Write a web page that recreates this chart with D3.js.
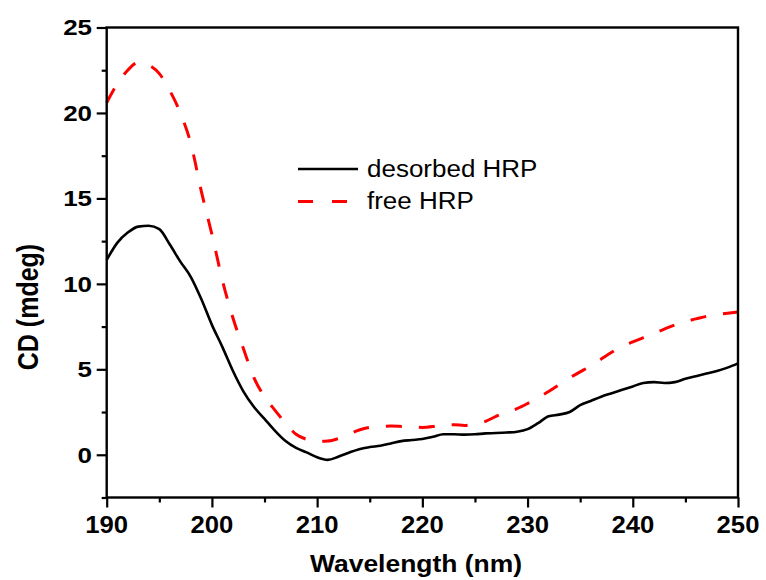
<!DOCTYPE html>
<html>
<head>
<meta charset="utf-8">
<script src="https://cdn.jsdelivr.net/npm/d3@7"></script>
<style>
  body { margin: 0; background: #fff; }
  text { font-family: Arial, "Liberation Sans", sans-serif; }
</style>
</head>
<body>
<div id="viz"></div>
<script>
var width = 766
var height = 580

// wavelength (nm), 1 nm step
var wavelengths = d3.range(190, 251)

// desorbed HRP (mdeg)
var desorbed = [11.4, 12.4, 13.0, 13.35, 13.4, 13.2, 12.3, 11.3, 10.4, 9.1,
  7.6, 6.3, 4.9, 3.7, 2.8, 2.1, 1.4, 0.8, 0.4, 0.14,
  -0.15, -0.3, -0.12, 0.12, 0.33, 0.45, 0.53, 0.66, 0.8, 0.86,
  0.92, 1.05, 1.2, 1.2, 1.18, 1.2, 1.25, 1.27, 1.3, 1.35,
  1.5, 1.85, 2.25, 2.35, 2.5, 2.9, 3.15, 3.4, 3.6, 3.8,
  4.0, 4.2, 4.25, 4.2, 4.25, 4.45, 4.6, 4.75, 4.9, 5.1, 5.35]

// free HRP (mdeg)
var free = [20.6, 21.7, 22.5, 22.95, 22.8, 22.3, 21.3, 20.0, 18.2, 15.4,
  12.9, 10.2, 8.0, 6.2, 4.5, 3.4, 2.6, 1.85, 1.2, 0.9,
  0.78, 0.8, 0.95, 1.2, 1.45, 1.6, 1.65, 1.68, 1.66, 1.63,
  1.6, 1.65, 1.75, 1.75, 1.72, 1.8, 1.95, 2.25, 2.5, 2.7,
  3.0, 3.35, 3.7, 4.1, 4.5, 4.85, 5.2, 5.6, 6.0, 6.35,
  6.6, 6.85, 7.1, 7.35, 7.6, 7.8, 7.95, 8.1, 8.2, 8.28, 8.35]

var xTicks = [190, 200, 210, 220, 230, 240, 250]
var xMinor = [195, 205, 215, 225, 235, 245]
var yTicks = [0, 5, 10, 15, 20, 25]
var yMinor = [-2.5, 2.5, 7.5, 12.5, 17.5, 22.5]

var seriesNames = ["desorbed HRP", "free HRP"]

// plot box (window.top is reserved, so use other names)
var plotL = 106.7, plotR = 738, plotT = 27.5, plotB = 497.5

var svg = d3.select("#viz")
  .append("svg")
  .attr("width", width)
  .attr("height", height)

var x = d3.scaleLinear().domain([190, 250]).range([plotL, plotR])
var y = d3.scaleLinear().domain([-2.5, 25]).range([plotB, plotT])

var line = d3.line()
  .x(function(d) { return x(d[0]) })
  .y(function(d) { return y(d[1]) })
  .curve(d3.curveMonotoneX)

// curves
svg.append("path")
  .datum(d3.zip(wavelengths, free))
  .attr("d", line)
  .attr("fill", "none")
  .attr("stroke", "#f00")
  .attr("stroke-width", 3)
  .attr("stroke-dasharray", "16,17")

svg.append("path")
  .datum(d3.zip(wavelengths, desorbed))
  .attr("d", line)
  .attr("fill", "none")
  .attr("stroke", "#000")
  .attr("stroke-width", 2.6)
  .attr("stroke-linejoin", "round")

// frame
svg.append("rect")
  .attr("x", plotL).attr("y", plotT)
  .attr("width", plotR - plotL).attr("height", plotB - plotT)
  .attr("fill", "none")
  .attr("stroke", "#000")
  .attr("stroke-width", 2.4)

// axes ticks
function styleAxis(g) {
  g.select(".domain").remove()
  g.selectAll("line").attr("stroke", "#000").attr("stroke-width", 2.2)
}

svg.append("g")
  .attr("transform", "translate(0," + plotB + ")")
  .call(d3.axisBottom(x).tickValues(xTicks).tickSize(10).tickFormat(""))
  .call(styleAxis)
svg.append("g")
  .attr("transform", "translate(0," + plotB + ")")
  .call(d3.axisBottom(x).tickValues(xMinor).tickSize(5).tickFormat(""))
  .call(styleAxis)
svg.append("g")
  .attr("transform", "translate(" + plotL + ",0)")
  .call(d3.axisLeft(y).tickValues(yTicks).tickSize(10).tickFormat(""))
  .call(styleAxis)
svg.append("g")
  .attr("transform", "translate(" + plotL + ",0)")
  .call(d3.axisLeft(y).tickValues(yMinor).tickSize(5).tickFormat(""))
  .call(styleAxis)

// tick labels
svg.selectAll(".xlab")
  .data(xTicks)
  .enter().append("text")
    .attr("transform", function(d) { return "translate(" + x(d) + ",533) scale(1.07,1)" })
    .attr("text-anchor", "middle")
    .style("font-size", "24px")
    .style("font-weight", "bold")
    .text(function(d) { return d })

svg.selectAll(".ylab")
  .data(yTicks)
  .enter().append("text")
    .attr("transform", function(d) { return "translate(92," + (y(d) + 7.8) + ") scale(1.18,1)" })
    .attr("text-anchor", "end")
    .style("font-size", "22px")
    .style("font-weight", "bold")
    .text(function(d) { return d })

// axis titles
svg.append("text")
  .attr("transform", "translate(416,572) scale(1.15,1)")
  .attr("text-anchor", "middle")
  .style("font-size", "23px")
  .style("font-weight", "bold")
  .text("Wavelength (nm)")

svg.append("text")
  .attr("transform", "translate(38,307) scale(1.2,1) rotate(-90)")
  .attr("text-anchor", "middle")
  .style("font-size", "25px")
  .style("font-weight", "bold")
  .text("CD (mdeg)")

// legend
var legend = svg.append("g")
legend.append("line")
  .attr("x1", 298).attr("x2", 358).attr("y1", 169).attr("y2", 169)
  .attr("stroke", "#000").attr("stroke-width", 2.6)
legend.append("line")
  .attr("x1", 298).attr("x2", 347).attr("y1", 201.5).attr("y2", 201.5)
  .attr("stroke", "#f00").attr("stroke-width", 3)
  .attr("stroke-dasharray", "15,19")
legend.selectAll("text")
  .data(seriesNames)
  .enter().append("text")
    .attr("transform", function(d, i) { return "translate(367," + (177.3 + i * 32) + ") scale(1.13,1)" })
    .style("font-size", "23px")
    .text(function(d) { return d })
</script>
</body>
</html>
